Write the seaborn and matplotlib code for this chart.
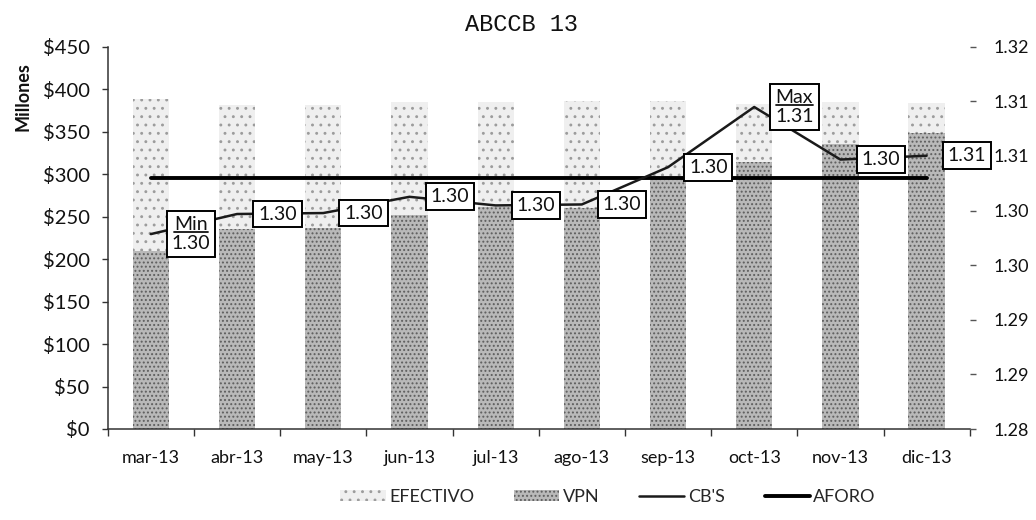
import numpy as np
import pandas as pd
import matplotlib
matplotlib.use('Agg')
import matplotlib.pyplot as plt
import seaborn as sns
from matplotlib.patches import Patch
from matplotlib.lines import Line2D
from matplotlib.transforms import IdentityTransform

# data
months = ['mar-13', 'abr-13', 'may-13', 'jun-13', 'jul-13',
          'ago-13', 'sep-13', 'oct-13', 'nov-13', 'dic-13']
efectivo = [388, 382, 382, 385, 385, 386, 386, 383, 385, 384]   # millones
vpn = [210, 236, 237, 252, 261, 260, 296, 314, 336, 349]        # millones
cbs = [1.3004, 1.3025, 1.3026, 1.3043, 1.3034, 1.3035, 1.3074, 1.3137, 1.3082, 1.3086]
aforo = [1.3063, 1.3063, 1.3063, 1.3063, 1.3063, 1.3063, 1.3063, 1.3063, 1.3063, 1.3063]
cbs_labels = ['Min\n1.30', '1.30', '1.30', '1.30', '1.30',
              '1.30', '1.30', 'Max\n1.31', '1.30', '1.31']
right_min, right_max = 1.28, 1.32

sns.set_theme(style='white')
plt.rcParams['font.family'] = ['Lato', 'DejaVu Sans']
plt.rcParams['hatch.linewidth'] = 0.9

fig = plt.figure(figsize=(10.36, 5.2), dpi=100)
ax = fig.add_axes([0.104, 0.175, 0.832, 0.735])

df = pd.DataFrame({'mes': months, 'EFECTIVO': efectivo, 'VPN': vpn})
light = dict(color='#efefef', edgecolor='#9c9c9c', hatch='..', linewidth=0)
dark = dict(color='#b9b9b9', edgecolor='#5e5e5e', hatch='....', linewidth=0)
sns.barplot(data=df, x='mes', y='EFECTIVO', width=0.42, saturation=1,
            errorbar=None, ax=ax, **light)
sns.barplot(data=df, x='mes', y='VPN', width=0.42, saturation=1,
            errorbar=None, ax=ax, **dark)

ax2 = ax.twinx()
pos = np.arange(len(months))
sns.lineplot(x=pos, y=aforo, ax=ax2, color='black', lw=2.8)
sns.lineplot(x=pos, y=cbs, ax=ax2, color='#1a1a1a', lw=1.8)

# left axis
ax.set_ylim(0, 450)
ax.set_yticks(np.arange(0, 451, 50))
ax.yaxis.set_major_formatter(lambda v, p: '\\$' + f'{v:.0f}')
ax.set_xlim(-0.5, len(months) - 0.5)
ax.set_xlabel('')
ax.set_ylabel('')
ax.set_xticks(pos, months)
ax.set_xticks(np.arange(-0.5, len(months)), minor=True)
ax.tick_params(axis='x', which='major', length=0, pad=15, labelsize=13, colors='#111111')
ax.tick_params(axis='x', which='minor', length=5, width=1, color='#333333', direction='out', bottom=True)
ax.tick_params(axis='y', length=4, width=1, color='#333333', direction='out', left=True,
               pad=9, labelsize=14.5, labelcolor='#111111')
for s in ['top', 'right']:
    ax.spines[s].set_visible(False)
for s in ['left', 'bottom']:
    ax.spines[s].set_color('#333333')
    ax.spines[s].set_linewidth(1.1)

# right axis
ax2.set_ylim(right_min, right_max)
ax2.set_yticks(np.linspace(right_min, right_max, 8))
ax2.yaxis.set_major_formatter(lambda v, p: f'{v:.2f}')
ax2.tick_params(axis='y', length=4, width=1, color='#555555', direction='out', right=True,
                pad=13, labelsize=13, labelcolor='#111111')
ax2.set_ylabel('')
for s in ax2.spines.values():
    s.set_visible(False)
ax.set_xlim(-0.5, len(months) - 0.5)

# data labels
anns = []
for i, (v, lab) in enumerate(zip(cbs, cbs_labels)):
    t = ax2.annotate(lab, (i, v), xytext=(21, 0), textcoords='offset pixels',
                     ha='left', va='center', multialignment='center', fontsize=14,
                     color='#111111', zorder=6,
                     bbox=dict(boxstyle='square,pad=0.25', fc='white', ec='black', lw=1.4))
    anns.append(t)

# underline "Min" / "Max"
r = fig.canvas.get_renderer()
for t, lab in zip(anns, cbs_labels):
    if '\n' not in lab:
        continue
    word = lab.split('\n')[0]
    ext = t.get_window_extent(r)
    tmp = fig.text(0, 0, word, fontsize=14)
    w = tmp.get_window_extent(r).width
    tmp.remove()
    x0 = ext.x0 + (ext.width - w) / 2
    y = ext.y1 - ext.height * 0.45
    fig.add_artist(Line2D([x0, x0 + w], [y, y], transform=IdentityTransform(),
                          color='#111111', lw=1.3, zorder=7))

fig.text(0.503, 0.952, 'ABCCB 13', ha='center', va='center', fontsize=17,
         family='Liberation Mono', color='#111111')
fig.text(0.022, 0.815, 'Millones', rotation=90, ha='center', va='center',
         fontsize=13, fontweight='bold', color='#111111')

handles = [Patch(label='EFECTIVO', facecolor=light['color'], edgecolor=light['edgecolor'],
                 hatch=light['hatch'], linewidth=0),
           Patch(label='VPN', facecolor=dark['color'], edgecolor=dark['edgecolor'],
                 hatch=dark['hatch'], linewidth=0),
           Line2D([], [], color='#1a1a1a', lw=1.8, label="CB'S"),
           Line2D([], [], color='black', lw=2.8, label='AFORO')]
fig.legend(handles=handles, loc='center', bbox_to_anchor=(0.587, 0.045), ncol=4,
           frameon=False, fontsize=13, handlelength=2.5, handleheight=0.6,
           columnspacing=2.2, handletextpad=0.2, borderpad=0.1)

fig.savefig('out.png', dpi=100)
